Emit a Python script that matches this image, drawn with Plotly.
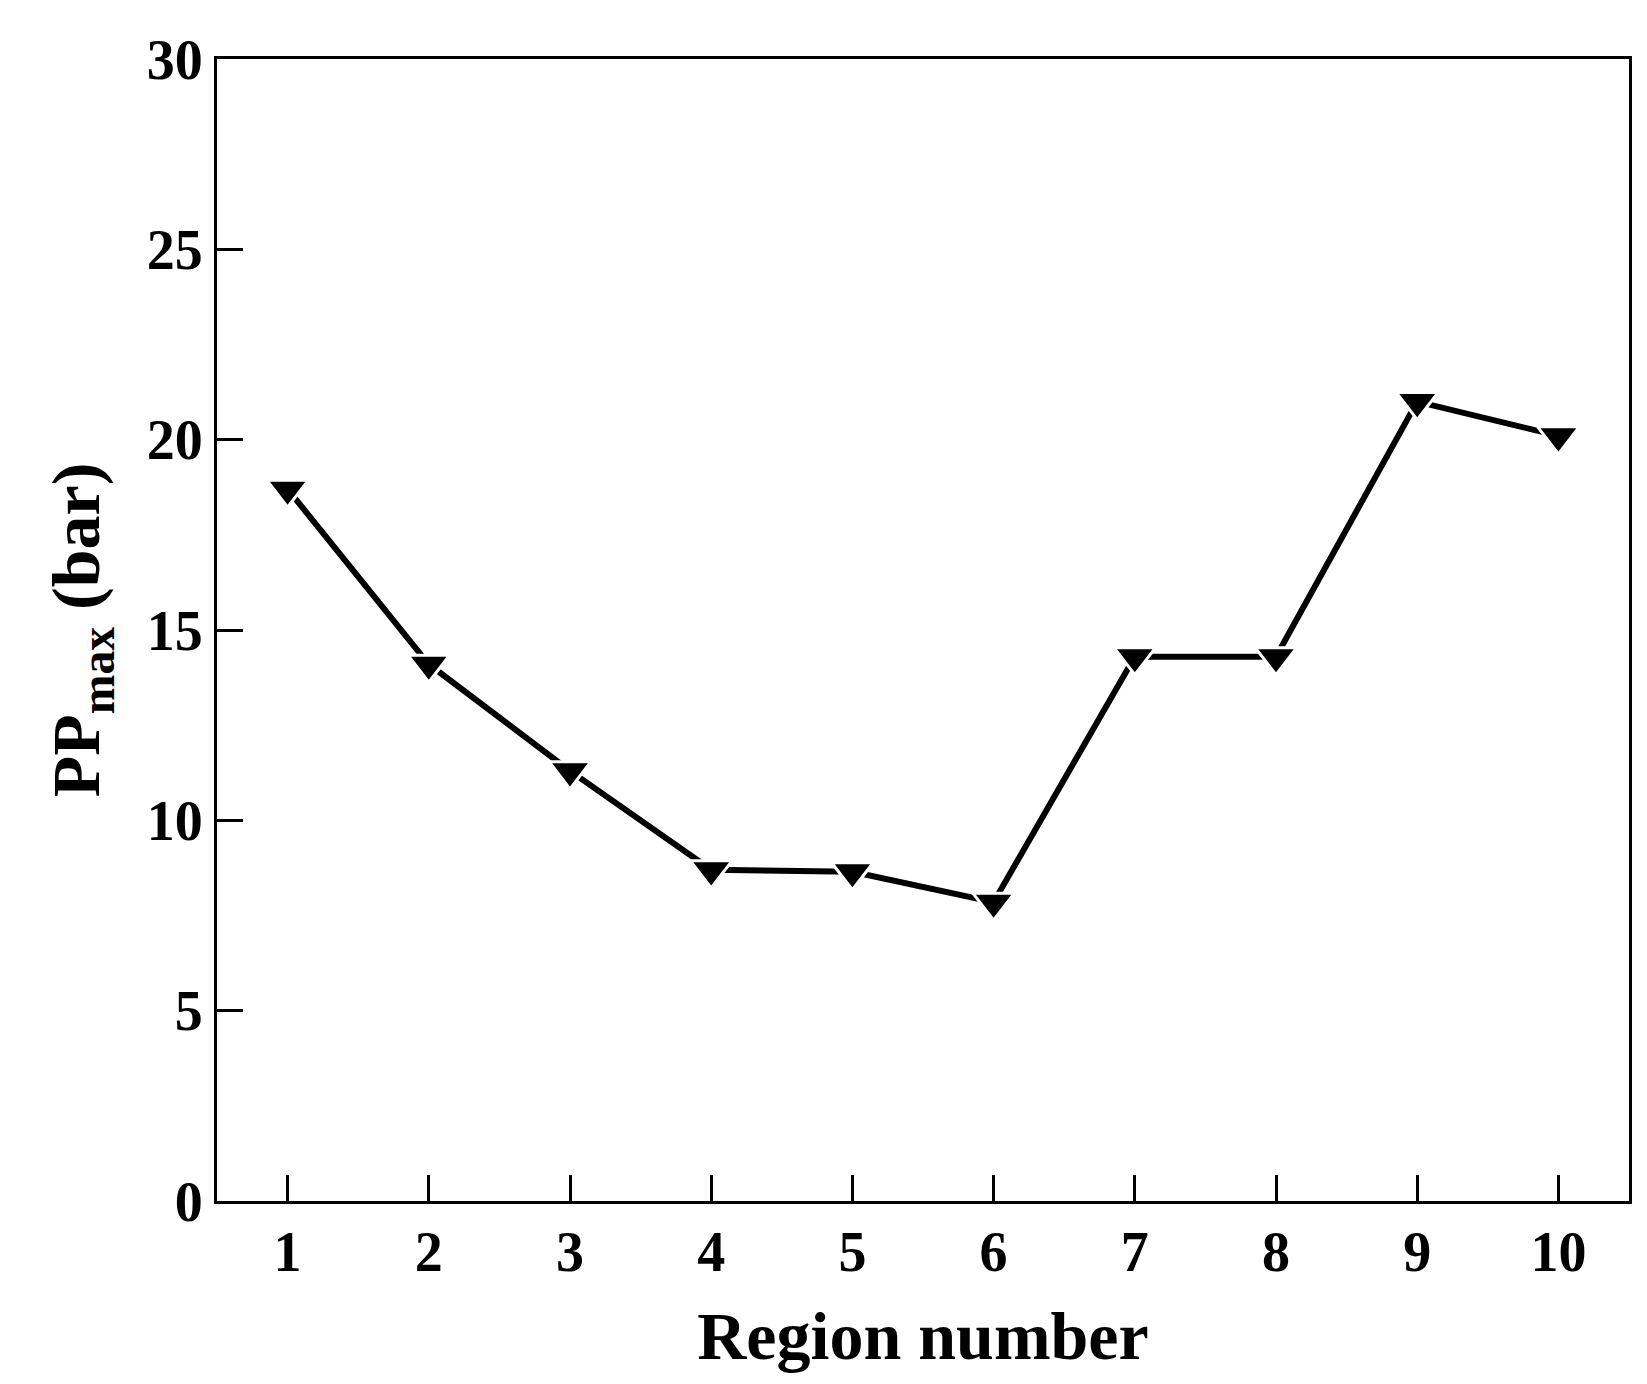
import plotly.graph_objects as go

regions = [1, 2, 3, 4, 5, 6, 7, 8, 9, 10]
pp_max = [18.7, 14.1, 11.3, 8.7, 8.65, 7.85, 14.3, 14.3, 21.0, 20.1]
x_ticks = [1, 2, 3, 4, 5, 6, 7, 8, 9, 10]
y_ticks = [0, 5, 10, 15, 20, 25, 30]

fig = go.Figure(go.Scatter(
    x=regions, y=pp_max, mode="lines+markers",
    line=dict(color="black", width=6),
    marker=dict(symbol="triangle-down", size=36, color="black",
                line=dict(color="white", width=3)),
))
tf = dict(family="Liberation Serif", size=56, color="black", weight="bold")
axis = dict(showline=True, linewidth=3, linecolor="black", mirror=True,
            ticks="inside", ticklen=26, tickwidth=3, tickcolor="black",
            showgrid=False, zeroline=False, tickfont=tf)
fig.update_xaxes(**axis, range=[0.5, 10.5], tickvals=x_ticks,
                 title=dict(text="<b>Region number</b>", font=dict(family="Liberation Serif", size=68, color="black"), standoff=30))
fig.update_yaxes(**axis, range=[0, 30], tickvals=y_ticks,
                 title=dict(text="<b>PP<sub>max</sub> (bar)</b>", font=dict(family="Liberation Serif", size=68, color="black"), standoff=25))
fig.update_layout(width=1647, height=1384, plot_bgcolor="white", paper_bgcolor="white",
                  margin=dict(l=209, r=26, t=51, b=191), showlegend=False,
                  font=dict(family="Liberation Serif", color="black"))
fig.write_html("out.html")
